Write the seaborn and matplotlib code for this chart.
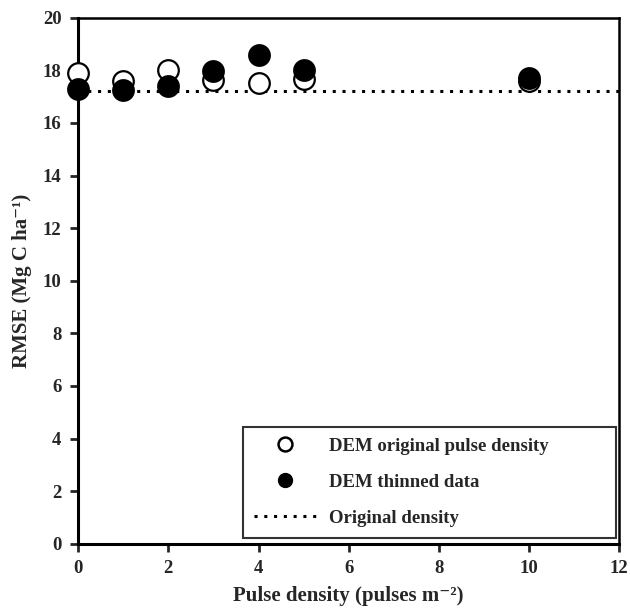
import matplotlib
matplotlib.use("Agg")
import matplotlib.pyplot as plt
import seaborn as sns
import pandas as pd
from matplotlib.lines import Line2D

density = [0, 1, 2, 3, 4, 5, 10]
rmse_original = [17.9, 17.6, 18.0, 17.64, 17.52, 17.67, 17.6]
rmse_thinned = [17.3, 17.26, 17.42, 17.96, 18.57, 18.02, 17.7]
original_density_rmse = 17.2

xticks = [0, 2, 4, 6, 8, 10, 12]
yticks = [0, 2, 4, 6, 8, 10, 12, 14, 16, 18, 20]

sns.set_style("ticks")
plt.rcParams['font.family'] = ['Liberation Serif', 'DejaVu Serif']
plt.rcParams['font.weight'] = 'bold'

fig = plt.figure(figsize=(6.3, 6.11), dpi=100)
ax = fig.add_axes([0.124, 0.110, 0.859, 0.861])

df_o = pd.DataFrame({"x": density, "y": rmse_original})
df_t = pd.DataFrame({"x": density, "y": rmse_thinned})

ax.axhline(original_density_rmse, color="black", linestyle=(0, (1, 2.2)), linewidth=2.2, zorder=1)
sns.scatterplot(data=df_o, x="x", y="y", ax=ax, s=220, facecolor="white",
                edgecolor="black", linewidth=1.6, zorder=3, legend=False)
sns.scatterplot(data=df_t, x="x", y="y", ax=ax, s=220, color="black",
                edgecolor="black", linewidth=1.6, zorder=4, legend=False)
for coll in ax.collections:
    coll.set_clip_on(False)

ax.set_xlim(0, 12)
ax.set_ylim(0, 20)
ax.set_xticks(xticks)
ax.set_yticks(yticks)
ax.tick_params(direction="out", length=6, width=2, labelsize=13.5, pad=6)
for lab in ax.get_xticklabels() + ax.get_yticklabels():
    lab.set_fontweight("bold")
for sp in ax.spines.values():
    sp.set_visible(True)
    sp.set_linewidth(2.2)
    sp.set_color("black")
ax.spines['top'].set_linewidth(1.8)
ax.spines['right'].set_linewidth(1.8)

ax.set_xlabel("Pulse density (pulses m\u207b\u00b2)", fontsize=15, fontweight="bold", labelpad=6)
ax.set_ylabel("RMSE (Mg C ha\u207b\u00b9)", fontsize=15, fontweight="bold", labelpad=8)

handles = [
    Line2D([], [], marker="o", linestyle="none", markersize=10, markerfacecolor="white",
           markeredgecolor="black", markeredgewidth=1.8),
    Line2D([], [], marker="o", linestyle="none", markersize=10, markerfacecolor="black",
           markeredgecolor="black"),
    Line2D([], [], color="black", linestyle=(0, (1, 2.2)), linewidth=2.2),
]
labels = ["DEM original pulse density", "DEM thinned data", "Original density"]
leg = ax.legend(handles, labels, loc="lower left", bbox_to_anchor=(0.305, 0.011, 0.688, 0.22),
                mode="expand", frameon=True, fancybox=False, edgecolor="black",
                prop={"weight": "bold", "size": 13.5}, handlelength=3.3,
                borderpad=0.6, labelspacing=1.0, handletextpad=0.7,
                borderaxespad=0.0)
leg.get_frame().set_linewidth(1.5)
fig.savefig("out.png", dpi=100)
